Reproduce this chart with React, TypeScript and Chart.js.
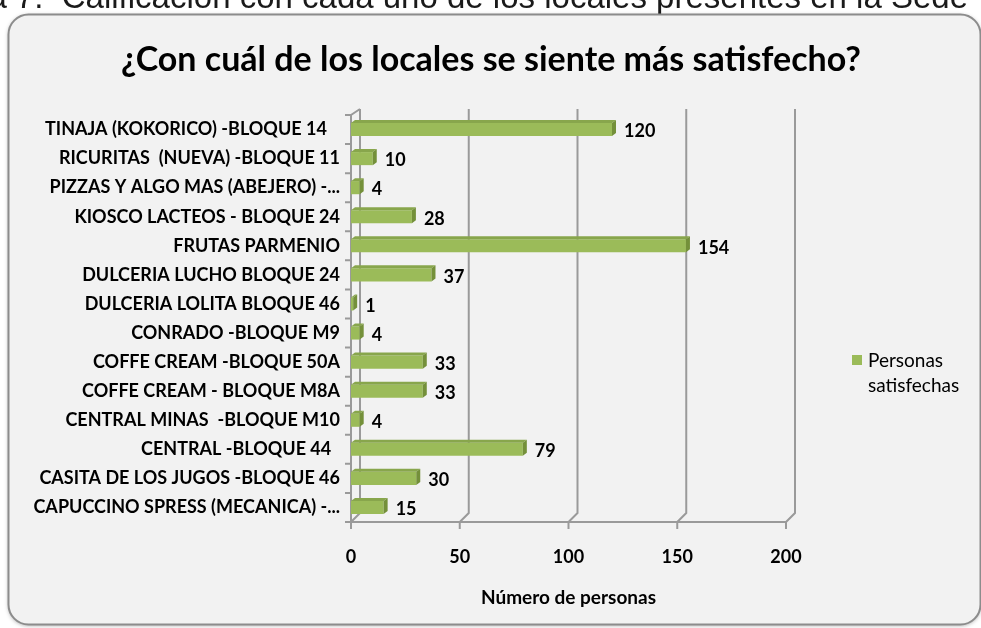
import { useEffect, useRef } from "react";
import { Chart, registerables } from "chart.js";

Chart.register(...registerables);

const pageCaption = "Gráfica 7.  Calificación con cada uno de los locales presentes en la Sede";
const chartTitle = "¿Con cuál de los locales se siente más satisfecho?";
const xAxisTitle = "Número de personas";
const seriesNameLines = ["Personas", "satisfechas"];

const categories = [
  "TINAJA (KOKORICO) -BLOQUE 14   ",
  "RICURITAS  (NUEVA) -BLOQUE 11",
  "PIZZAS Y ALGO MAS (ABEJERO) -...",
  "KIOSCO LACTEOS - BLOQUE 24",
  "FRUTAS PARMENIO",
  "DULCERIA LUCHO BLOQUE 24",
  "DULCERIA LOLITA BLOQUE 46",
  "CONRADO -BLOQUE M9",
  "COFFE CREAM -BLOQUE 50A",
  "COFFE CREAM - BLOQUE M8A",
  "CENTRAL MINAS  -BLOQUE M10",
  "CENTRAL -BLOQUE 44  ",
  "CASITA DE LOS JUGOS -BLOQUE 46",
  "CAPUCCINO SPRESS (MECANICA) -...",
];
const values = [120, 10, 4, 28, 154, 37, 1, 4, 33, 33, 4, 79, 30, 15];
const xTicks = [0, 50, 100, 150, 200];

const FONT = 'Lato, "Open Sans", sans-serif';
const GREEN = "#9bbb59";
const GREEN_TOP = "#88a64c";
const GREEN_SIDE = "#74903a";
const FRAME = "#9a9a9a";

const backgroundPlugin = {
  id: "bgBox",
  beforeDraw(chart: any) {
    const ctx = chart.ctx;
    const W = chart.width;
    const H = chart.height;
    ctx.save();
    ctx.fillStyle = "#ffffff";
    ctx.fillRect(0, 0, W, H);
    // caption (cut at top)
    ctx.fillStyle = "#1a1a1a";
    ctx.font = '33px "Liberation Sans", Arial, sans-serif';
    ctx.textAlign = "right";
    ctx.textBaseline = "alphabetic";
    ctx.fillText(pageCaption, 968, 8);
    // rounded box
    ctx.beginPath();
    ctx.roundRect(8.5, 14.5, 972, 610, 20);
    ctx.shadowColor = "rgba(0,0,0,0.35)";
    ctx.shadowBlur = 4;
    ctx.shadowOffsetY = 1;
    ctx.fillStyle = "#f2f2f2";
    ctx.fill();
    ctx.shadowColor = "transparent";
    ctx.strokeStyle = "#8c8c8c";
    ctx.lineWidth = 2;
    ctx.stroke();
    // title
    ctx.fillStyle = "#000000";
    ctx.font = `bold 34px ${FONT}`;
    ctx.textAlign = "center";
    ctx.textBaseline = "middle";
    ctx.fillText(chartTitle, 491, 60);
    ctx.restore();
  },
};

const framePlugin = {
  id: "frame3d",
  beforeDatasetsDraw(chart: any) {
    const ctx = chart.ctx;
    const { left, right, top, bottom } = chart.chartArea;
    const xs = chart.scales.x;
    const ys = chart.scales.y;
    const dx = 9;
    const dyTop = 6;
    const dyBot = 9;
    ctx.save();
    ctx.strokeStyle = FRAME;
    ctx.lineWidth = 2;
    ctx.beginPath();
    for (const v of xTicks) {
      const x = xs.getPixelForValue(v);
      ctx.moveTo(x + dx, top - dyTop);
      ctx.lineTo(x + dx, bottom - dyBot);
      ctx.lineTo(x, bottom);
      ctx.moveTo(x, bottom);
      ctx.lineTo(x, bottom + 7);
    }
    ctx.moveTo(left, bottom);
    ctx.lineTo(right, bottom);
    ctx.moveTo(left, bottom);
    ctx.lineTo(left, top);
    ctx.lineTo(left + dx, top - dyTop);
    for (let i = 0; i <= categories.length; i++) {
      const y = ys.getPixelForValue(i - 0.5);
      ctx.moveTo(left - 6, y);
      ctx.lineTo(left, y);
    }
    ctx.stroke();
    ctx.restore();
  },
};

const bar3dPlugin = {
  id: "bar3d",
  afterDatasetsDraw(chart: any) {
    const ctx = chart.ctx;
    const meta = chart.getDatasetMeta(0);
    const dx = 4;
    const dy = 3;
    ctx.save();
    meta.data.forEach((bar: any, i: number) => {
      const { x, y, base, height } = bar.getProps(["x", "y", "base", "height"], true);
      const y0 = y - height / 2;
      const y1 = y + height / 2;
      ctx.fillStyle = GREEN_TOP;
      ctx.beginPath();
      ctx.moveTo(base, y0);
      ctx.lineTo(x, y0);
      ctx.lineTo(x + dx, y0 - dy);
      ctx.lineTo(base + dx, y0 - dy);
      ctx.closePath();
      ctx.fill();
      ctx.fillStyle = GREEN_SIDE;
      ctx.beginPath();
      ctx.moveTo(x, y0);
      ctx.lineTo(x + dx, y0 - dy);
      ctx.lineTo(x + dx, y1 - dy);
      ctx.lineTo(x, y1);
      ctx.closePath();
      ctx.fill();
      ctx.fillStyle = "#000000";
      ctx.font = `bold 18px ${FONT}`;
      ctx.textAlign = "left";
      ctx.textBaseline = "middle";
      ctx.fillText(String(values[i]), x + dx + 8, y + 2);
    });
    ctx.restore();
  },
};

const legendPlugin = {
  id: "sideLegend",
  afterDraw(chart: any) {
    const ctx = chart.ctx;
    ctx.save();
    ctx.fillStyle = GREEN;
    ctx.fillRect(852, 355, 10, 10);
    ctx.fillStyle = "#000000";
    ctx.font = `19px ${FONT}`;
    ctx.textAlign = "left";
    ctx.textBaseline = "middle";
    ctx.fillText(seriesNameLines[0], 868, 361);
    ctx.fillText(seriesNameLines[1], 868, 386);
    ctx.restore();
  },
};

export default function App() {
  const ref = useRef<HTMLCanvasElement | null>(null);
  useEffect(() => {
    if (!ref.current) return;
    const chart = new Chart(ref.current, {
      type: "bar",
      data: {
        labels: categories,
        datasets: [
          {
            label: seriesNameLines.join(" "),
            data: values,
            backgroundColor: GREEN,
            barPercentage: 0.45,
            categoryPercentage: 1,
          },
        ],
      },
      options: {
        indexAxis: "y",
        responsive: false,
        animation: false,
        devicePixelRatio: 1,
        layout: { padding: { top: 115, right: 195, left: 0, bottom: 0 } },
        plugins: {
          legend: { display: false },
          tooltip: { enabled: false },
          title: { display: false },
        },
        scales: {
          x: {
            min: 0,
            max: 200,
            grid: { display: false, drawTicks: false },
            border: { display: false },
            ticks: {
              stepSize: 50,
              padding: 24,
              color: "#000000",
              font: { family: FONT, size: 18, weight: "bold" },
            },
            title: {
              display: true,
              text: xAxisTitle,
              color: "#000000",
              font: { family: FONT, size: 19, weight: "bold" },
              padding: { top: 0, bottom: 19 },
            },
            afterFit(scale: any) {
              scale.height = 106;
            },
          },
          y: {
            grid: { display: false, drawTicks: false },
            border: { display: false },
            ticks: {
              autoSkip: false,
              padding: 11,
              color: "#000000",
              font: { family: FONT, size: 18, weight: "bold" },
            },
            afterFit(scale: any) {
              scale.width = 351;
            },
          },
        },
      },
      plugins: [backgroundPlugin, framePlugin, bar3dPlugin, legendPlugin],
    } as any);
    return () => chart.destroy();
  }, []);
  return (
    <div style={{ position: "fixed", left: 0, top: 0, width: 981, height: 628 }}>
      <canvas ref={ref} width={981} height={628} style={{ display: "block" }} />
    </div>
  );
}
